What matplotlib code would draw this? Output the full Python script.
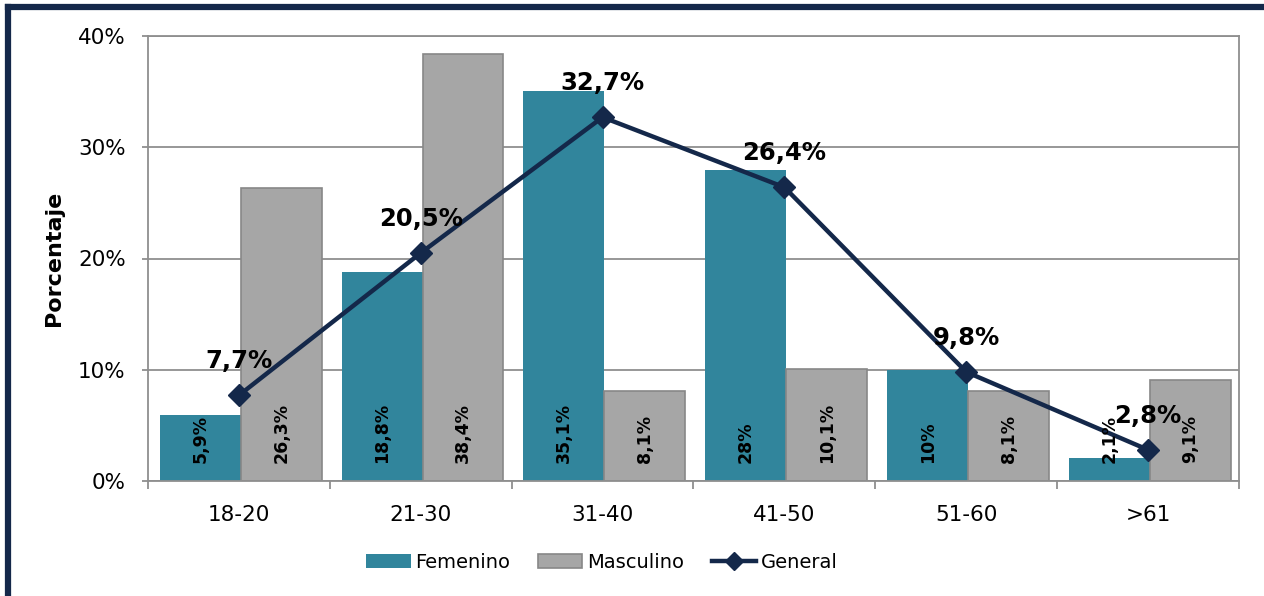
import numpy as np
from matplotlib import pyplot as plt
from matplotlib.lines import Line2D
from matplotlib.ticker import FuncFormatter

categories = ["18-20", "21-30", "31-40", "41-50", "51-60", ">61"]
femenino = [5.9, 18.8, 35.1, 28, 10, 2.1]
masculino = [26.3, 38.4, 8.1, 10.1, 8.1, 9.1]
general = [7.7, 20.5, 32.7, 26.4, 9.8, 2.8]

TEAL = "#31859c"
GREY = "#a6a6a6"
GREY_EDGE = "#878787"
NAVY = "#14284a"
AXIS_GREY = "#8f8f8f"


def fmt(v):
    """Excel style label: comma decimal, no trailing ,0"""
    s = f"{v:g}".replace(".", ",")
    return s + "%"


plt.rcParams["font.family"] = ["DejaVu Sans"]

fig = plt.figure(figsize=(12.64, 5.96), dpi=100)
ax = fig.add_axes([148 / 1264, 1 - 481 / 596, (1239 - 148) / 1264, (481 - 36) / 596])

x = np.arange(len(categories))
w = 0.445
off = 0.01

b1 = ax.bar(x - w / 2 + off, femenino, w, color=TEAL, zorder=2, label="Femenino")
b2 = ax.bar(x + w / 2 + off, masculino, w, color=GREY, edgecolor=GREY_EDGE,
            linewidth=1.2, zorder=2, label="Masculino")
ln, = ax.plot(x, general, "-", color=NAVY, linewidth=3.2, marker="D",
              markersize=11, zorder=4, label="General")

# labels inside bars, at the base
for bars, vals in ((b1, femenino), (b2, masculino)):
    for rect, v in zip(bars, vals):
        ax.annotate(fmt(v), (rect.get_x() + rect.get_width() / 2, 0),
                    xytext=(0, 18), textcoords="offset pixels",
                    rotation=90, ha="center", va="bottom",
                    fontsize=12.5, fontweight="bold", color="black", zorder=5)

# labels above the line
for xi, v in zip(x, general):
    ax.annotate(fmt(v), (xi, v), xytext=(0, 22), textcoords="offset pixels",
                ha="center", va="bottom", fontsize=17.5, fontweight="bold",
                color="black", zorder=6)

ax.set_xlim(-0.5, len(categories) - 0.5)
ax.set_ylim(0, 40)
ax.set_yticks([0, 10, 20, 30, 40])
ax.yaxis.set_major_formatter(FuncFormatter(lambda v, p: f"{v:.0f}%"))
ax.grid(axis="y", color=AXIS_GREY, linewidth=1.3, zorder=0)
ax.set_axisbelow(True)

ax.set_xticks(x)
ax.set_xticklabels(categories)
ax.set_xticks(np.arange(-0.5, len(categories)), minor=True)
ax.tick_params(axis="x", which="major", length=0, pad=17, labelsize=15.5)
ax.tick_params(axis="x", which="minor", length=6, width=1.3, color=AXIS_GREY)
ax.tick_params(axis="y", length=4, width=1.3, color=AXIS_GREY, pad=12,
               labelsize=15.5)

for s in ax.spines.values():
    s.set_color(AXIS_GREY)
    s.set_linewidth(1.3)

ax.set_ylabel("Porcentaje", fontsize=16, fontweight="bold")
ax.yaxis.set_label_coords((64 - 148) / 1091, 0.5)

fig.legend(handles=[b1, b2, ln], loc="center",
           bbox_to_anchor=(602 / 1264, 1 - 562 / 596), ncol=3, frameon=False,
           fontsize=14, handlelength=2.3, handletextpad=0.25,
           columnspacing=1.4, markerscale=0.8)

# dark frame on the left and top edge
fig.add_artist(Line2D([8 / 1264, 8 / 1264], [0, 1 - 7 / 596],
                      transform=fig.transFigure, color=NAVY, linewidth=4.5,
                      solid_capstyle="projecting"))
fig.add_artist(Line2D([8 / 1264, 1], [1 - 7 / 596, 1 - 7 / 596],
                      transform=fig.transFigure, color=NAVY, linewidth=4.5,
                      solid_capstyle="projecting"))

fig.savefig("out.png", dpi=100)
